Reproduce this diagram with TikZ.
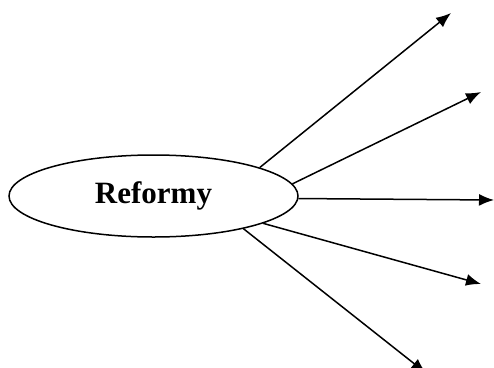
\documentclass[tikz,border=0pt]{standalone}
\usepackage{fontspec}
\setmainfont{Liberation Serif}
\usetikzlibrary{positioning,shapes,arrows.meta}
\tikzstyle{topic}=[draw,ellipse,inner sep=0pt,minimum width=289pt,minimum height=82pt,
  font=\fontsize{31}{36}\selectfont\bfseries]
\newcommand{\newBranch}[3]{\draw[->] (#1.#2) -- (#3);}

\begin{document}
\begin{tikzpicture}[x=1pt,y=-1pt,
      >={Latex[length=15pt,width=12pt]},
      line width=1.5pt
      ]
      \useasboundingbox (0,0) rectangle (494,367);
      \node[topic] (ref) at (153.5,196) {Reformy};
      \coordinate (a1) at (451,13);
      \coordinate (a2) at (481,92);
      \coordinate (a3) at (494,200);
      \coordinate (a4) at (481,284);
      \coordinate (a5) at (426,373);
      \newBranch{ref}{15}{a1}
      \newBranch{ref}{5.8}{a2}
      \newBranch{ref}{-1}{a3}
      \newBranch{ref}{-14.7}{a4}
      \newBranch{ref}{-20.3}{a5}
    \end{tikzpicture}
\end{document}
